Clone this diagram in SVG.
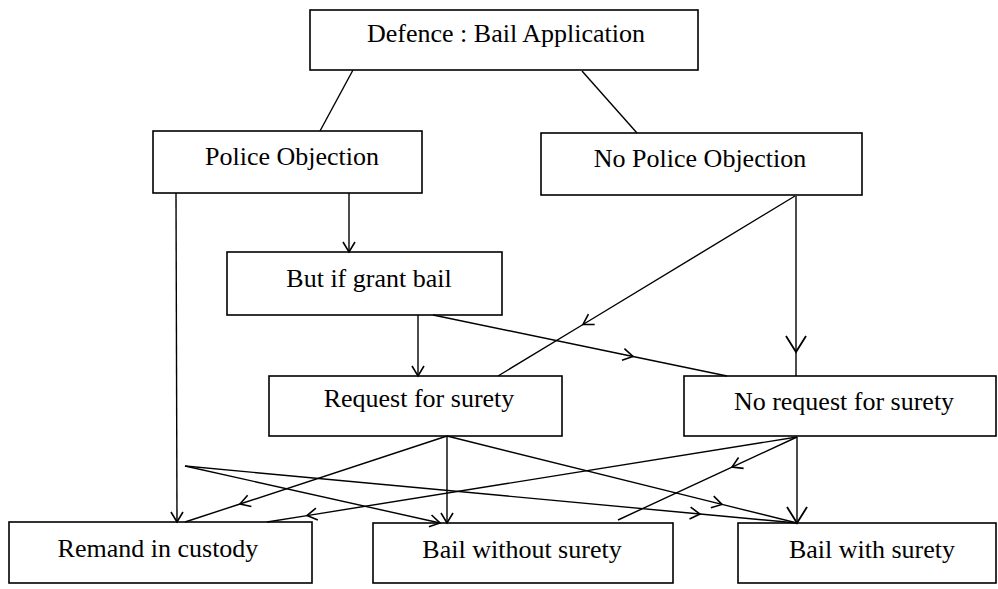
<svg xmlns="http://www.w3.org/2000/svg" width="998" height="589" viewBox="0 0 998 589">
<style>
.box{fill:none;stroke:#000;stroke-width:1.6}
.t{font-family:"Liberation Serif","Times New Roman",serif;font-size:26px;fill:#000;text-anchor:middle}
.c{fill:none;stroke:#000;stroke-width:1.4}
</style>
<defs>
<marker id="ah" markerUnits="userSpaceOnUse" markerWidth="24" markerHeight="24" refX="0" refY="0" orient="auto" overflow="visible">
<path d="M-10,-6 L0,0 L-10,6" fill="none" stroke="#000" stroke-width="1.6"/>
</marker>
<marker id="ahl" markerUnits="userSpaceOnUse" markerWidth="30" markerHeight="30" refX="0" refY="0" orient="auto" overflow="visible">
<path d="M-16,-10 L0,0 L-16,10" fill="none" stroke="#000" stroke-width="1.8"/>
</marker>
</defs>
<rect x="0" y="0" width="998" height="589" fill="#fff"/>
<g id="connectors">
<path class="c" d="M353,70 L320,131"/>
<path class="c" d="M582,71 L637,133"/>
<path class="c" d="M349,193 L349,252" marker-end="url(#ah)"/>
<path class="c" d="M176,193 L177,522" marker-end="url(#ah)"/>
<path class="c" d="M795,196 L583,324.5 L498,376" marker-mid="url(#ah)"/>
<path class="c" d="M796,196 L796,352 L796,376" marker-mid="url(#ahl)"/>
<path class="c" d="M418,315 L418,376" marker-end="url(#ah)"/>
<path class="c" d="M433,315 L633,356.5 L727,376" marker-mid="url(#ah)"/>
<path class="c" d="M447,436 L240,504 L185,522" marker-mid="url(#ah)"/>
<path class="c" d="M447,436 L447,523" marker-end="url(#ah)"/>
<path class="c" d="M447,436 L722,504.4 L797,523" marker-mid="url(#ah)"/>
<path class="c" d="M797,437 L307,515.6 L267,522" marker-mid="url(#ah)"/>
<path class="c" d="M797,437 L732,467.1 L618,520" marker-mid="url(#ah)"/>
<path class="c" d="M797,437 L797,523" marker-end="url(#ahl)"/>
<path class="c" d="M185,466 L440,523" marker-end="url(#ah)"/>
<path class="c" d="M185,466 L700,514 L797,523" marker-mid="url(#ah)"/>
</g>
<g id="defence">
<rect class="box" x="310" y="10" width="388" height="60"/>
<text class="t" x="506" y="42">Defence : Bail Application</text>
</g>
<g id="police-objection">
<rect class="box" x="153" y="131" width="269" height="62"/>
<text class="t" x="292" y="165">Police Objection</text>
</g>
<g id="no-police-objection">
<rect class="box" x="541" y="133" width="321" height="62"/>
<text class="t" x="700" y="167">No Police Objection</text>
</g>
<g id="but-if-grant-bail">
<rect class="box" x="227" y="252" width="275" height="63"/>
<text class="t" x="369" y="287">But if grant bail</text>
</g>
<g id="request-for-surety">
<rect class="box" x="269" y="376" width="293" height="60"/>
<text class="t" x="419" y="407">Request for surety</text>
</g>
<g id="no-request-for-surety">
<rect class="box" x="684" y="376" width="312" height="60"/>
<text class="t" x="844" y="410">No request for surety</text>
</g>
<g id="remand-in-custody">
<rect class="box" x="9" y="522" width="303" height="61"/>
<text class="t" x="158" y="557">Remand in custody</text>
</g>
<g id="bail-without-surety">
<rect class="box" x="373" y="523" width="300" height="60"/>
<text class="t" x="522" y="558">Bail without surety</text>
</g>
<g id="bail-with-surety">
<rect class="box" x="738" y="523" width="258" height="60"/>
<text class="t" x="872" y="558">Bail with surety</text>
</g>
</svg>
